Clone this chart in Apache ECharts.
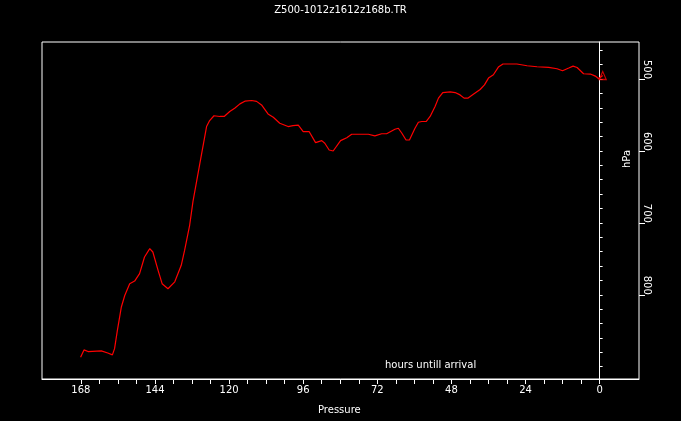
<!DOCTYPE html>
<html><head><meta charset="utf-8">
<script src="https://cdn.jsdelivr.net/npm/echarts@6/dist/echarts.min.js"></script>
<style>html,body{margin:0;padding:0;background:#000}#c{width:681px;height:421px}</style>
</head><body><div id="c"></div>
<script>
const titleText = 'Z500-1012z1612z168b.TR';
const hours = [168.1,167.0,165.7,161.4,159.3,157.8,157.1,156.2,154.9,153.8,152.2,150.6,149.0,147.4,145.7,144.7,143.0,141.7,139.8,137.6,135.5,134.4,132.8,131.7,129.5,127.3,126.3,124.9,123.0,121.6,119.8,118.2,116.5,114.9,112.7,111.1,109.5,107.4,105.7,103.6,100.9,99.3,97.6,96.0,94.1,92.0,90.0,89.0,87.6,86.3,83.9,81.9,80.3,77.6,74.9,72.8,70.6,69.0,66.3,65.2,64.1,62.7,61.6,59.8,58.7,57.6,56.2,54.9,53.3,52.2,50.8,48.4,46.8,45.2,43.9,42.7,40.9,38.7,37.3,36.0,34.4,32.8,31.3,26.8,23.5,20.3,16.5,13.8,12.0,10.0,8.6,7.3,5.2,3.0,1.4,0.3,-1.0];
const pressure = [887,876.7,879,878,881,883.7,875,850,817,801,784.6,781,770.7,747.5,735.8,740.5,766,784.6,791.6,782,759,738,704,670,618,566,557.7,551,552,552,545,540.5,534.5,530.7,529.8,531,535.9,548.4,553,561.4,566,564.7,564,573,573,588.4,585.6,589.3,598.6,600,585.6,581.5,576.7,576.7,576.7,579,576,576,569.8,568.4,575,584.7,584.7,568.4,560,559,559,552,538,526.5,518.7,517.7,518.7,522,526.5,526.5,521,514.5,508,498.6,494,483.3,479,479,481.4,482.8,483.8,485.6,488.4,484.6,481.9,483.8,492.6,493,495.8,499.6,495];
const xLabels = [168,144,120,96,72,48,24,0];
const xTicks = [];
for (let h = 0; h <= 168; h += 6) xTicks.push(h);
const yLabels = [500,600,700,800];
const yMinorTicks = [460,480,500,520,540,560,580,600,620,640,660,680,700,720,740,760,780,800,820,840,860,880,900];
const xName = 'Pressure';
const yName = 'hPa';
const note = 'hours untill arrival';

const FONT = 'DejaVu Sans';
const pts = hours.map((h, i) => [h, pressure[i]]);
const last = pts[pts.length - 1];

const chart = echarts.init(document.getElementById('c'), null, {renderer: 'canvas'});
chart.setOption({
  backgroundColor: '#000',
  animation: false,
  title: {text: titleText, left: 'center', top: 0,
    textStyle: {color: '#fff', fontSize: 10, fontWeight: 'normal', fontFamily: FONT}},
  grid: {left: 42, top: 42, right: 42, bottom: 42, show: true, borderColor: '#fff', borderWidth: 1, backgroundColor: 'transparent'},
  xAxis: {
    type: 'value', inverse: true, min: -12.75, max: 180.6,
    axisLine: {show: true, lineStyle: {color: '#fff', width: 1}},
    axisTick: {show: true, inside: false, length: 5, lineStyle: {color: '#fff'}, customValues: xTicks},
    axisLabel: {color: '#fff', fontSize: 10, fontFamily: FONT, margin: 6, customValues: xLabels},
    splitLine: {show: false}
  },
  yAxis: [{
    type: 'value', inverse: true, min: 448.4, max: 917.2, position: 'right',
    axisLine: {show: true, lineStyle: {color: '#fff', width: 1}},
    axisTick: {show: true, inside: false, length: 3, lineStyle: {color: '#fff'}, customValues: yMinorTicks},
    axisLabel: {show: false},
    splitLine: {show: false}
  }, {
    type: 'value', inverse: true, min: 448.4, max: 917.2, position: 'right', offset: 0,
    axisLine: {show: false},
    axisTick: {show: true, inside: false, length: 6, lineStyle: {color: '#fff'}, customValues: yLabels},
    axisLabel: {show: true, color: '#fff', fontSize: 10, fontFamily: FONT, rotate: -90, margin: 3,
      align: 'right', verticalAlign: 'bottom', customValues: yLabels},
    splitLine: {show: false}
  }],
  series: [{
    type: 'line', data: pts, showSymbol: false, symbol: 'none',
    lineStyle: {color: '#ff0000', width: 1.2}, silent: true
  }, {
    type: 'scatter', data: [last], symbol: 'triangle', symbolSize: [7, 8],
    itemStyle: {color: 'rgba(0,0,0,0)', borderColor: '#ff0000', borderWidth: 1.2}, silent: true
  }],
  graphic: [
    {type: 'text', left: 340 - 22, top: 405, style: {text: xName, fill: '#fff', font: '10px "DejaVu Sans"'}},
    {type: 'text', left: 385, top: 360, style: {text: note, fill: '#fff', font: '10px "DejaVu Sans"'}},
    {type: 'text', x: 627, y: 159, rotation: Math.PI / 2,
      style: {text: yName, fill: '#fff', font: '10px "DejaVu Sans"', align: 'center', verticalAlign: 'middle'}}
  ]
});
</script></body></html>
